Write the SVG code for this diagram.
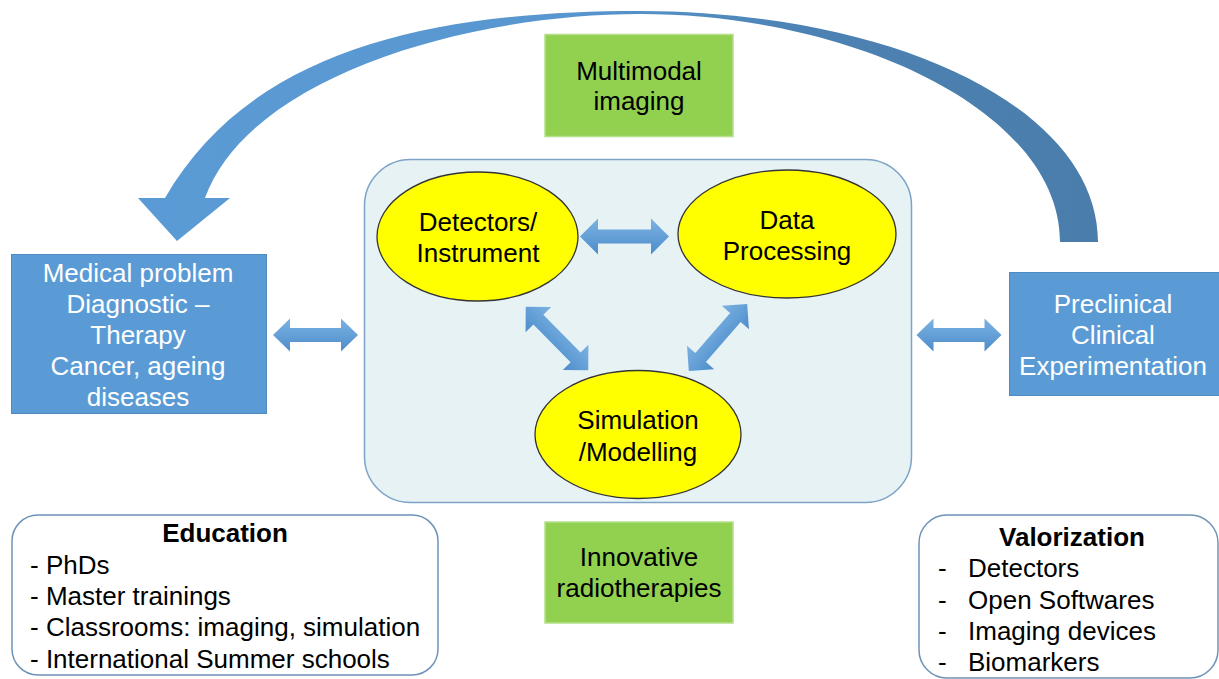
<svg xmlns="http://www.w3.org/2000/svg" width="1219" height="679" viewBox="0 0 1219 679">
<defs>
<linearGradient id="arcGrad" x1="0" y1="0" x2="1" y2="0">
<stop offset="0" stop-color="#5b9bd5"/>
<stop offset="0.45" stop-color="#5896cf"/>
<stop offset="0.7" stop-color="#4c82b3"/>
<stop offset="1" stop-color="#4a7dab"/>
</linearGradient>
<linearGradient id="dblGrad" x1="0" y1="0" x2="0" y2="1">
<stop offset="0" stop-color="#7cb2e2"/>
<stop offset="1" stop-color="#4d8dcb"/>
</linearGradient>
<path id="dbl" d="M-44.5,0 L-26.5,-18 L-26.5,-7 L26.5,-7 L26.5,-18 L44.5,0 L26.5,18 L26.5,7 L-26.5,7 L-26.5,18 Z"/>
<path id="dblSide" d="M-42.5,0 L-25.5,-16.5 L-25.5,-7 L25.5,-7 L25.5,-16.5 L42.5,0 L25.5,16.5 L25.5,7 L-25.5,7 L-25.5,16.5 Z"/>
</defs>
<style>
text{font-family:"Liberation Sans",Arial,sans-serif;font-size:26px;fill:#000}
.c{text-anchor:middle}
.w{fill:#fff}
.b{font-weight:bold}
.blue{fill:#5b9bd5;stroke:#4f8ac0;stroke-width:1}
.green{fill:#92d050;stroke:#b5df8a;stroke-width:1.5}
.ell{fill:#ffff00;stroke:#333;stroke-width:1.3}
.list{fill:#fff;stroke:#6f93b8;stroke-width:1.5}
.dbl{fill:url(#dblGrad)}
</style>

<g id="core">
<rect x="364.5" y="159.5" width="547" height="343" rx="46" fill="#e6f2f4" stroke="#7ea3c6" stroke-width="1.5"/>
</g>

<g id="connectors">
<path id="loop-arrow" fill="url(#arcGrad)" d="M1098,242 C1098,110 900,12 640,11 C430,11 250,50 165,198 L138,198 L177,241 L230,198 L205,198 C250,75 470,14 640,14 C850,14 1060,110 1060,242 Z"/>
<use href="#dblSide" class="dbl" transform="translate(315.5,335)"/>
<use href="#dblSide" class="dbl" transform="translate(959,335)"/>
<use href="#dbl" class="dbl" transform="translate(624.5,236.5)"/>
<use href="#dbl" class="dbl" transform="translate(557,338.5) rotate(45.4)"/>
<use href="#dbl" class="dbl" transform="translate(718,337.5) rotate(-49)"/>
</g>

<g id="multimodal">
<rect class="green" x="545" y="34.5" width="188" height="102"/>
<text class="c" x="639" y="80">Multimodal</text>
<text class="c" x="639" y="110">imaging</text>
</g>

<g id="innovative">
<rect class="green" x="545" y="522" width="188" height="101"/>
<text class="c" x="639" y="566">Innovative</text>
<text class="c" x="639" y="597">radiotherapies</text>
</g>

<g id="detectors">
<ellipse class="ell" cx="477.5" cy="236.5" rx="100.5" ry="64.5"/>
<text class="c" x="478" y="231">Detectors/</text>
<text class="c" x="478" y="262">Instrument</text>
</g>

<g id="data-processing">
<ellipse class="ell" cx="787" cy="234" rx="109" ry="64"/>
<text class="c" x="787" y="229">Data</text>
<text class="c" x="787" y="260">Processing</text>
</g>

<g id="simulation">
<ellipse class="ell" cx="638" cy="434.5" rx="103" ry="64"/>
<text class="c" x="638" y="429">Simulation</text>
<text class="c" x="638" y="461">/Modelling</text>
</g>

<g id="medical">
<rect class="blue" x="11.5" y="254.5" width="255" height="159"/>
<text class="c w" x="138" y="282">Medical problem</text>
<text class="c w" x="138" y="313">Diagnostic –</text>
<text class="c w" x="138" y="344">Therapy</text>
<text class="c w" x="138" y="375">Cancer, ageing</text>
<text class="c w" x="138" y="406">diseases</text>
</g>

<g id="preclinical">
<rect class="blue" x="1009.5" y="272.5" width="212" height="123"/>
<text class="c w" x="1113" y="313">Preclinical</text>
<text class="c w" x="1113" y="344">Clinical</text>
<text class="c w" x="1113" y="375">Experimentation</text>
</g>

<g id="education">
<rect class="list" x="12" y="515" width="426" height="160" rx="26"/>
<text class="c b" x="225" y="542">Education</text>
<text x="30" y="574">- PhDs</text>
<text x="30" y="605">- Master trainings</text>
<text x="30" y="636">- Classrooms: imaging, simulation</text>
<text x="30" y="668">- International Summer schools</text>
</g>

<g id="valorization">
<rect class="list" x="919" y="515" width="299" height="163" rx="28"/>
<text class="c b" x="1072" y="546">Valorization</text>
<text x="938" y="577">-</text><text x="968" y="577">Detectors</text>
<text x="938" y="609">-</text><text x="968" y="609">Open Softwares</text>
<text x="938" y="640">-</text><text x="968" y="640">Imaging devices</text>
<text x="938" y="671">-</text><text x="968" y="671">Biomarkers</text>
</g>
</svg>
